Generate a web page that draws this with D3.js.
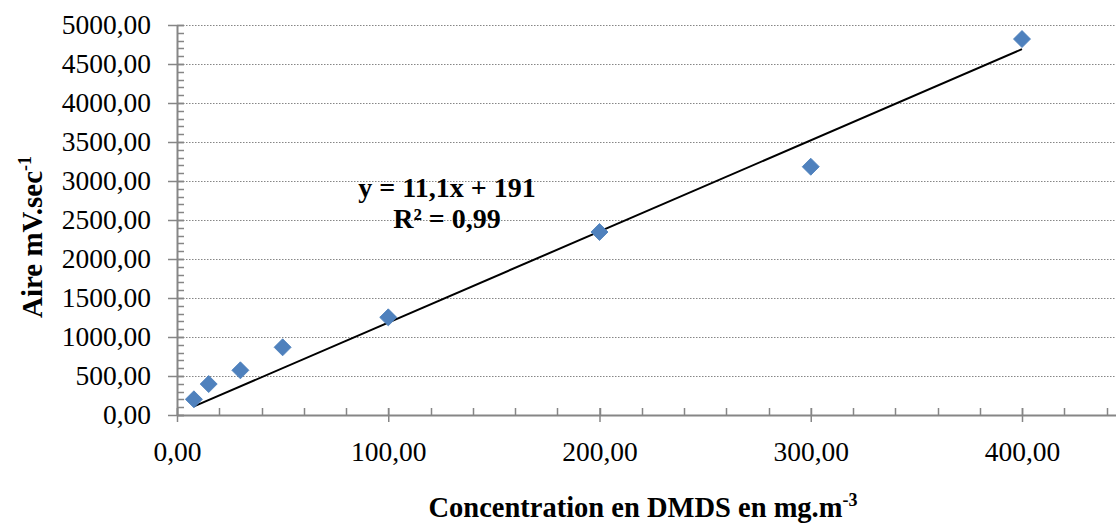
<!DOCTYPE html>
<html>
<head>
<meta charset="utf-8">
<script src="https://cdn.jsdelivr.net/npm/d3@7"></script>
<style>
  html, body { margin: 0; padding: 0; background: #ffffff; }
  svg { display: block; }
  text { font-family: "Liberation Serif", "Times New Roman", serif; }
</style>
</head>
<body>
<svg id="chart" width="1116" height="524"></svg>
<script>
// ---- data ----
const concentrations = [8, 15, 30, 50, 100, 200, 300, 400];
const areas = [201, 397, 573, 868, 1252, 2346, 3183, 4820];
const trendX = [8, 400];
const trendY = [110, 4690];
const yTicks = [0, 500, 1000, 1500, 2000, 2500, 3000, 3500, 4000, 4500, 5000];
const xTicks = [0, 100, 200, 300, 400];
const equationLines = ["y = 11,1x + 191", "R² = 0,99"];
const xTitle = "Concentration en DMDS en mg.m";
const xTitleSup = "-3";
const yTitle = "Aire mV.sec";
const yTitleSup = "-1";

const svg = d3.select("#chart");
const fmt = v => d3.format(".2f")(v).replace(".", ",");

const x = d3.scaleLinear().domain([0, 450]).range([177, 177 + 450 * 2.1125]);
const y = d3.scaleLinear().domain([0, 5000]).range([415, 25]);

const axisColor = "#868686";

// gridlines
svg.append("g").selectAll("line").data(yTicks.filter(d => d > 0)).join("line")
  .attr("x1", x(0)).attr("x2", 1116)
  .attr("y1", d => Math.round(y(d)) + 0.5).attr("y2", d => Math.round(y(d)) + 0.5)
  .attr("stroke", axisColor).attr("stroke-width", 1.2)
  .attr("stroke-dasharray", "1.5,1.5");

// y axis: minor ticks (inside), major ticks (crossing)
const yMinor = d3.range(0, 5001, 100);
svg.append("g").selectAll("line").data(yMinor).join("line")
  .attr("x1", x(0)).attr("x2", x(0) + 7)
  .attr("y1", d => Math.round(y(d)) + 0.5).attr("y2", d => Math.round(y(d)) + 0.5)
  .attr("stroke", axisColor).attr("stroke-width", 1.5);
const yAxis = d3.axisLeft(y).tickValues(yTicks).tickFormat(fmt).tickSizeInner(9).tickSizeOuter(0).tickPadding(17);
const gy = svg.append("g").attr("transform", `translate(${x(0)},0)`).call(yAxis);
gy.select(".domain").attr("stroke", axisColor).attr("stroke-width", 2);
gy.selectAll(".tick line").attr("stroke", axisColor).attr("stroke-width", 1.5).attr("x2", -9);
gy.selectAll(".tick").each(function() {
  d3.select(this).append("line").attr("x1", 0).attr("x2", 7).attr("stroke", axisColor).attr("stroke-width", 1.5);
});
gy.selectAll(".tick text").attr("font-size", 27.5).attr("fill", "#000").attr("font-family", "Liberation Serif");

// x axis
const xMinor = d3.range(0, 451, 20);
svg.append("g").selectAll("line").data(xMinor).join("line")
  .attr("x1", d => Math.round(x(d)) + 0.5).attr("x2", d => Math.round(x(d)) + 0.5)
  .attr("y1", y(0)).attr("y2", y(0) - 7)
  .attr("stroke", axisColor).attr("stroke-width", 1.5);
const xAxis = d3.axisBottom(x).tickValues(xTicks).tickFormat(fmt).tickSizeInner(7).tickSizeOuter(0).tickPadding(19);
const gx = svg.append("g").attr("transform", `translate(0,${y(0)})`).call(xAxis);
gx.select(".domain").attr("stroke", axisColor).attr("stroke-width", 2);
gx.selectAll(".tick line").attr("stroke", axisColor).attr("stroke-width", 1.5).attr("y1", -7);
gx.selectAll(".tick text").attr("font-size", 27.5).attr("fill", "#000").attr("font-family", "Liberation Serif");

// trend line
svg.append("path")
  .datum(trendX.map((d, i) => [d, trendY[i]]))
  .attr("d", d3.line().x(d => x(d[0])).y(d => y(d[1])))
  .attr("stroke", "#000").attr("stroke-width", 2).attr("fill", "none");

// points (diamonds)
svg.append("g").selectAll("path").data(concentrations).join("path")
  .attr("d", d3.symbol().type(d3.symbolSquare).size(145)())
  .attr("transform", (d, i) => `translate(${x(d)},${y(areas[i])}) rotate(45)`)
  .attr("fill", "#4F81BD").attr("stroke", "#4A7EBB").attr("stroke-width", 0.8);

// equation
const eq = svg.append("g").attr("font-weight", "bold").attr("font-size", 28).attr("text-anchor", "middle");
eq.append("text").attr("x", 447).attr("y", 197).text(equationLines[0]);
eq.append("text").attr("x", 447).attr("y", 228).text(equationLines[1]);

// x title
const xt = svg.append("text").attr("x", 643).attr("y", 517).attr("text-anchor", "middle")
  .attr("font-weight", "bold").attr("font-size", 28.5);
xt.append("tspan").text(xTitle);
xt.append("tspan").attr("dy", -11).attr("font-size", 18).text(xTitleSup);

// y title
const yt = svg.append("text").attr("transform", "translate(42,237) rotate(-90)").attr("text-anchor", "middle")
  .attr("font-weight", "bold").attr("font-size", 29);
yt.append("tspan").text(yTitle);
yt.append("tspan").attr("dy", -11).attr("font-size", 18).text(yTitleSup);
</script>
</body>
</html>
